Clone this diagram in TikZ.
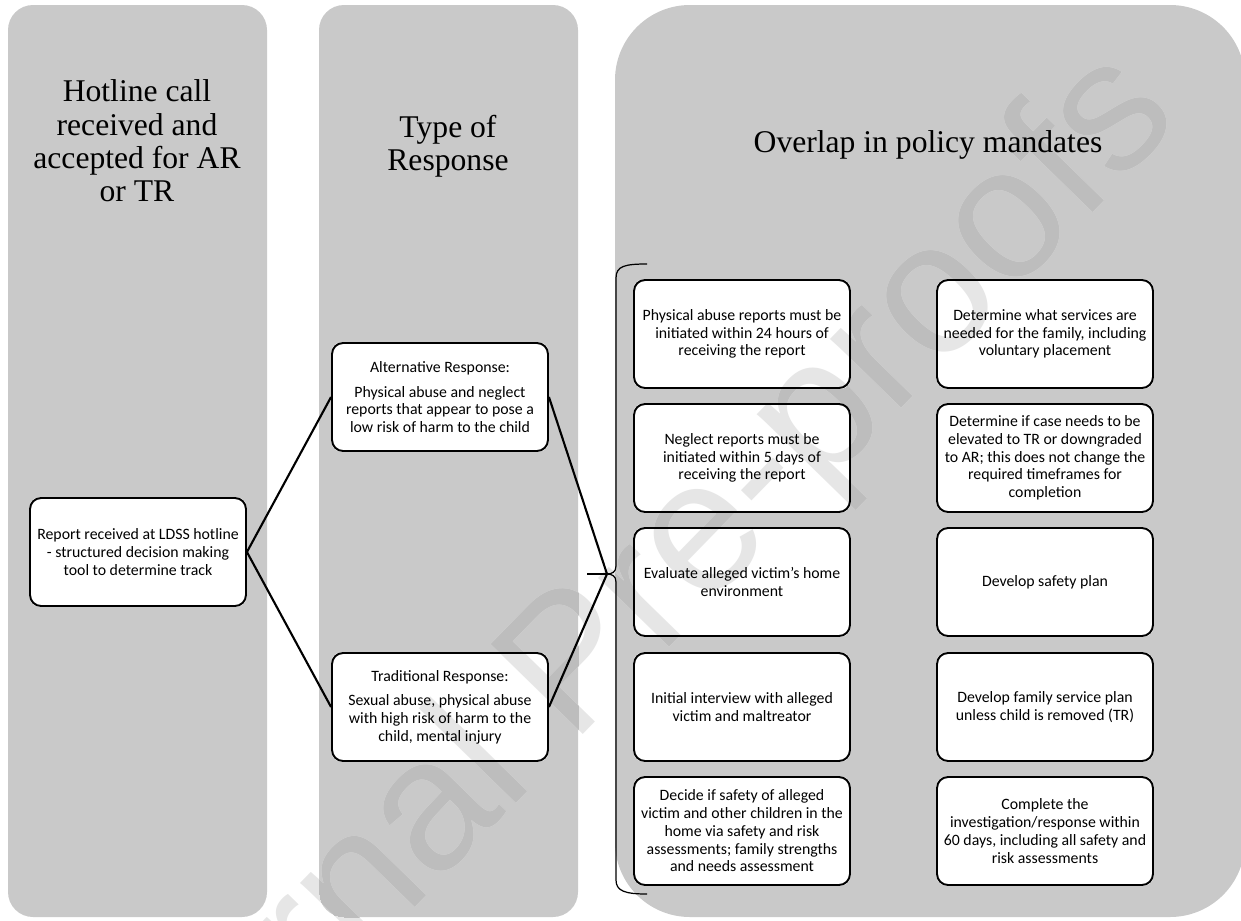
\documentclass[tikz,border=0pt]{standalone}
\usepackage{fontspec}
\setmainfont{Liberation Serif}
\newfontfamily\carlito{Carlito}
\newfontfamily\wmfont{Liberation Sans}
\definecolor{panelgray}{RGB}{201,201,201}
\definecolor{wmlight}{RGB}{230,230,230}
\definecolor{wmdark}{RGB}{189,189,189}
\pgfdeclarelayer{panels}
\pgfdeclarelayer{wmlayer}
\pgfsetlayers{panels,wmlayer,main}

\begin{document}
\begin{tikzpicture}[x=0.02cm, y=-0.02cm,
    panel/.style={fill=panelgray},
    colhead/.style={font=\fontsize{18}{19}\selectfont, align=center, inner sep=0pt},
    card/.style={draw, line width=1.1pt, rounded corners=0.22cm,
      minimum width=4.32cm, minimum height=2.16cm, align=center,
      font=\carlito\fontsize{9}{10.1}\selectfont},
    link/.style={line width=1.2pt},
    wmark/.style={font=\wmfont\fontsize{106.6}{106.6}\selectfont, rotate=45.7}]
  \useasboundingbox (0,0) rectangle (1241,920);
  % Background columns
  \begin{pgfonlayer}{panels}
    \fill[panel, rounded corners=0.5cm] (8,5) rectangle (267,917);
    \fill[panel, rounded corners=0.5cm] (319,5) rectangle (578,917);
    \fill[panel, rounded corners=1.5cm] (615,5) rectangle (1245,917);
  \end{pgfonlayer}
  % Column headings
  \node[colhead] (hotline) at (137,141) {Hotline call\\received and\\accepted for AR\\or TR};
  \node[colhead] (type) at (448,146) {Type of\\Response};
  \node[colhead] (overlap) at (928,145) {Overlap in policy mandates};
  % Hotline report and the two tracks
  \node[card] (report) at (138,552) {Report received at LDSS hotline\\- structured decision making\\tool to determine track};
  \node[card] (alt) at (440,397) {Alternative Response:\\[4pt]Physical abuse and neglect\\reports that appear to pose a\\low risk of harm to the child};
  \node[card] (trad) at (440,707) {Traditional Response:\\[4pt]Sexual abuse, physical abuse\\with high risk of harm to the\\child, mental injury};
  % Policy mandates, left column
  \node[card] (phys) at (742,334) {Physical abuse reports must be\\initiated within 24 hours of\\receiving the report};
  \node[card] (negl) at (742,458) {Neglect reports must be\\initiated within 5 days of\\receiving the report};
  \node[card] (evalhome) at (742,582) {Evaluate alleged victim’s home\\environment};
  \node[card] (interview) at (742,707) {Initial interview with alleged\\victim and maltreator};
  \node[card] (decide) at (742,831) {Decide if safety of alleged\\victim and other children in the\\home via safety and risk\\assessments; family strengths\\and needs assessment};
  % Policy mandates, right column
  \node[card] (services) at (1045,334) {Determine what services are\\needed for the family, including\\voluntary placement};
  \node[card] (elevate) at (1045,458) {Determine if case needs to be\\elevated to TR or downgraded\\to AR; this does not change the\\required timeframes for\\completion};
  \node[card] (safety) at (1045,582) {Develop safety plan};
  \node[card] (serviceplan) at (1045,707) {Develop family service plan\\unless child is removed (TR)};
  \node[card] (complete) at (1045,831) {Complete the\\investigation/response within\\60 days, including all safety and\\risk assessments};
  % White card faces, under the watermark
  \begin{pgfonlayer}{panels}
    \foreach \c in {report,alt,trad,phys,negl,evalhome,interview,decide,services,elevate,safety,serviceplan,complete}
      \fill[white, rounded corners=0.22cm] (\c.north west) rectangle (\c.south east);
  \end{pgfonlayer}
  % Watermark: light on white, darker on the grey columns
  \begin{pgfonlayer}{wmlayer}
    \node[wmark, text=wmlight] (wm) at (611,637) {Journal Pre-proofs};
    \begin{scope}[even odd rule]
      \clip [rounded corners=0.5cm] (8,5) rectangle (267,917) (319,5) rectangle (578,917)
        [rounded corners=1.5cm] (615,5) rectangle (1245,917)
        [rounded corners=0.22cm] \foreach \c in {report,alt,trad,phys,negl,evalhome,interview,decide,services,elevate,safety,serviceplan,complete} {(\c.north west) rectangle (\c.south east)};
      \node[wmark, text=wmdark] (wmpanel) at (611,637) {Journal Pre-proofs};
    \end{scope}
  \end{pgfonlayer}
  % Brace round the mandates
  \coordinate (tip) at (607,574);
  \coordinate (tick) at (587,574);
  \draw[line width=0.7pt] (647,264) .. controls (625,264) and (616,266) .. (616,278)
    -- (616,566) .. controls (616,572) and (612,574) .. (tip)
    .. controls (612,574) and (616,576) .. (616,582)
    -- (616,880) .. controls (616,891) and (625,894) .. (647,894);
  \draw[line width=0.7pt] (tick) -- (tip);
  % Connectors
  \draw[link] (report.east) -- (alt.west);
  \draw[link] (report.east) -- (trad.west);
  \draw[link] (alt.east) -- (tip);
  \draw[link] (trad.east) -- (tip);
\end{tikzpicture}
\end{document}
